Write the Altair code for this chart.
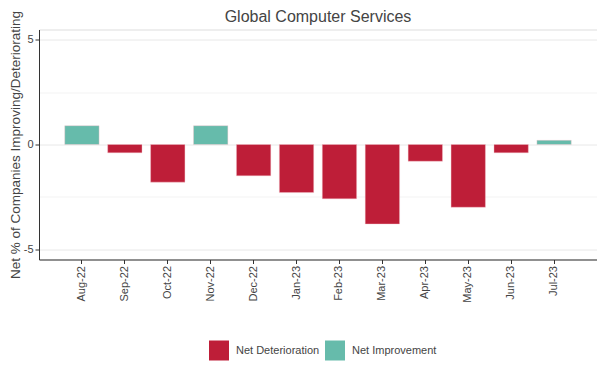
import altair as alt
import pandas as pd

months = ["Aug-22", "Sep-22", "Oct-22", "Nov-22", "Dec-22", "Jan-23",
          "Feb-23", "Mar-23", "Apr-23", "May-23", "Jun-23", "Jul-23"]
values = [0.9, -0.4, -1.8, 0.9, -1.5, -2.3, -2.6, -3.8, -0.8, -3.0, -0.4, 0.2]
categories = ["Net Deterioration", "Net Improvement"]
colors = ["#BE1E38", "#66BBAB"]

df = pd.DataFrame({"month": months, "value": values})
df["status"] = [categories[0] if v < 0 else categories[1] for v in values]

FONT = "Liberation Sans"

bars = alt.Chart(df).mark_bar(stroke="#f4c4cc", strokeWidth=0.4).encode(
    x=alt.X(
        "month:N", sort=months,
        scale=alt.Scale(paddingInner=0.2, paddingOuter=0.6),
        axis=alt.Axis(title=None, labelAngle=-90, labelFontSize=11, labelColor="#444",
                      labelFont=FONT, domainColor="#333", tickColor="#333", tickSize=4,
                      labelPadding=2, grid=False),
    ),
    y=alt.Y(
        "value:Q",
        scale=alt.Scale(domain=[-5.5, 5.5], nice=False, zero=False),
        axis=alt.Axis(
            values=[-5, -2.5, 0, 2.5, 5],
            labelExpr="datum.value % 5 === 0 ? toString(datum.value) : ''",
            title="Net % of Companies Improving/Deteriorating",
            titleFont=FONT, titleFontSize=13.5, titleFontWeight="normal", titleColor="#444",
            titlePadding=1,
            labelFont=FONT, labelFontSize=11, labelColor="#444", labelPadding=2,
            domainColor="#333", tickSize=4,
            tickColor={"condition": {"test": "datum.value % 5 === 0", "value": "#333"}, "value": "transparent"},
            grid=True,
            gridColor={"condition": {"test": "datum.value % 5 === 0", "value": "#e8e8e8"}, "value": "#f3f3f3"},
        ),
    ),
    color=alt.Color(
        "status:N",
        scale=alt.Scale(domain=categories, range=colors),
        legend=alt.Legend(
            title=None, orient="none", direction="horizontal",
            legendX=170, legendY=311,
            symbolType="square", symbolSize=400, symbolStrokeWidth=0,
            labelFont=FONT, labelFontSize=11, labelColor="#444",
            columnPadding=5, labelOffset=7,
        ),
    ),
)

chart = bars.properties(
    width=558, height=230,
    title=alt.TitleParams("Global Computer Services", fontSize=16, color="#444",
                          fontWeight="normal", font=FONT, offset=-14),
    autosize=alt.AutoSizeParams(type="none"),
    padding={"left": 31, "top": 21.5, "right": 0, "bottom": 110.5},
).configure_view(stroke=None).configure(background="white")

chart.save("out.html", embed_options={"renderer": "svg", "actions": False})
